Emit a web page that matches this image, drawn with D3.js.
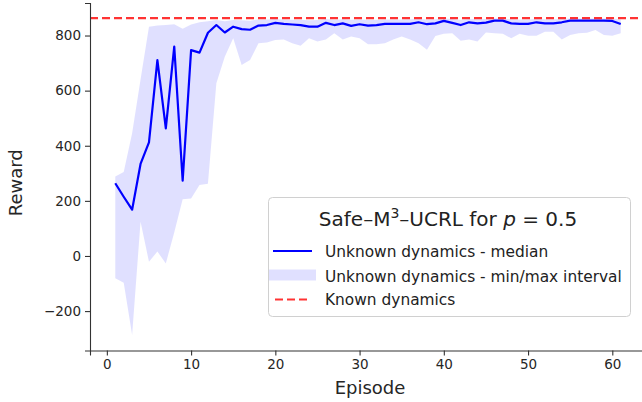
<!DOCTYPE html>
<html>
<head>
<meta charset="utf-8">
<script src="https://cdn.jsdelivr.net/npm/d3@7"></script>
<style>
  html, body { margin: 0; padding: 0; background: #fff; }
  svg { display: block; font-family: "DejaVu Sans", sans-serif; }
</style>
</head>
<body>
<svg id="chart" width="642" height="402"></svg>
<script>
// Episodes run
const episodes = [1,2,3,4,5,6,7,8,9,10,11,12,13,14,15,16,17,18,19,20,
  21,22,23,24,25,26,27,28,29,30,31,32,33,34,35,36,37,38,39,40,
  41,42,43,44,45,46,47,48,49,50,51,52,53,54,55,56,57,58,59,60,61];

// Reward with unknown dynamics: median over runs
const medianReward = [264,215,168,334,412,711,463,760,273,747,
  738,810,838,811,832,823,821,836,838,846,
  842,840,838,832,832,846,838,844,835,841,
  836,838,842,842,842,842,848,841,844,853,
  846,838,848,844,847,854,854,844,842,842,
  848,844,844,848,854,854,854,854,854,853,842];

// Reward with unknown dynamics: minimum over runs
const minReward = [-81,-97,-287,124,-21,16,-27,85,206,209,
  258,262,627,723,790,693,711,772,775,784,
  786,772,763,790,778,786,808,786,796,790,
  768,768,772,786,796,786,772,748,798,806,
  808,781,786,778,811,808,806,790,806,799,
  799,814,814,786,802,808,810,820,802,799,808];

// Reward with unknown dynamics: maximum over runs
const maxReward = [288,305,445,640,832,836,838,841,825,840,
  848,852,856,852,856,855,854,858,858,860,
  858,857,857,855,856,860,857,859,857,858,
  857,857,858,858,858,859,860,858,859,862,
  860,857,860,859,860,862,862,859,858,858,
  860,859,859,860,862,862,862,862,862,862,858];

// Reward reached with known dynamics
const knownReward = 863;

const xTicks = [0,10,20,30,40,50,60];
const yTicks = [-200,0,200,400,600,800];

const legendTitle = ["Safe–M", "3", "–UCRL for ", "p", " = 0.5"];
const legendLabels = ["Unknown dynamics - median",
  "Unknown dynamics - min/max interval",
  "Known dynamics"];

const svg = d3.select("#chart");

const x = d3.scaleLinear().domain([-2, 64]).range([90, 646]);
const y = d3.scaleLinear().domain([-343, 918]).range([350.5, 3]);

const rows = episodes.map((e, i) => ({e, med: medianReward[i], lo: minReward[i], hi: maxReward[i]}));

// min/max band
svg.append("path")
  .datum(rows)
  .attr("fill", "#0000ff")
  .attr("fill-opacity", 0.12)
  .attr("d", d3.area().x(d => x(d.e)).y0(d => y(d.lo)).y1(d => y(d.hi)));

// median line
svg.append("path")
  .datum(rows)
  .attr("fill", "none")
  .attr("stroke", "#0000ff")
  .attr("stroke-width", 2.2)
  .attr("stroke-linejoin", "round")
  .attr("d", d3.line().x(d => x(d.e)).y(d => y(d.med)));

// known-dynamics reference
svg.append("line")
  .attr("x1", x.range()[0]).attr("x2", 642)
  .attr("y1", y(knownReward)).attr("y2", y(knownReward))
  .attr("stroke", "#ff0000")
  .attr("stroke-opacity", 0.8)
  .attr("stroke-width", 2.2)
  .attr("stroke-dasharray", "8,4");

// axes
const xAxis = svg.append("g")
  .attr("transform", `translate(0,${y.range()[0]})`)
  .call(d3.axisBottom(x).tickValues(xTicks).tickSize(5).tickPadding(4).tickFormat(d3.format("d")));
const yAxis = svg.append("g")
  .attr("transform", `translate(${x.range()[0]},0)`)
  .call(d3.axisLeft(y).tickValues(yTicks).tickSize(5).tickPadding(4)
    .tickFormat(d => d < 0 ? "\u2212" + Math.abs(d) : String(d)));

[xAxis, yAxis].forEach(g => {
  g.select(".domain").attr("stroke", "#333").attr("stroke-width", 1.1);
  g.selectAll(".tick line").attr("stroke", "#333").attr("stroke-width", 1.1);
  g.selectAll(".tick text").attr("fill", "#262626").style("font-size", "13.5px")
    .style("font-family", "DejaVu Sans, sans-serif");
});

svg.append("text")
  .attr("x", (x.range()[0] + 642) / 2 + 4).attr("y", 394)
  .attr("text-anchor", "middle")
  .attr("fill", "#262626")
  .style("font-size", "18px")
  .text("Episode");

svg.append("text")
  .attr("transform", `translate(22,${(y.range()[0] + y.range()[1]) / 2 + 6}) rotate(-90)`)
  .attr("text-anchor", "middle")
  .attr("fill", "#262626")
  .style("font-size", "18px")
  .text("Reward");

// legend
const lg = svg.append("g");
lg.append("rect")
  .attr("x", 268.5).attr("y", 197.5).attr("width", 362).attr("height", 119)
  .attr("rx", 4)
  .attr("fill", "#fff").attr("fill-opacity", 0.8)
  .attr("stroke", "#d0d0d0").attr("stroke-width", 1);

const title = lg.append("text")
  .attr("x", 448).attr("y", 226)
  .attr("text-anchor", "middle")
  .attr("fill", "#222")
  .style("font-size", "20px");
title.append("tspan").text(legendTitle[0]);
title.append("tspan").attr("dy", -8).style("font-size", "14px").text(legendTitle[1]);
title.append("tspan").attr("dy", 8).text(legendTitle[2]);
title.append("tspan").style("font-style", "italic").text(legendTitle[3]);
title.append("tspan").text(legendTitle[4]);

lg.append("line")
  .attr("x1", 273).attr("x2", 312).attr("y1", 251).attr("y2", 251)
  .attr("stroke", "#0000ff").attr("stroke-width", 2.2);
lg.append("rect")
  .attr("x", 269).attr("y", 269.5).attr("width", 47).attr("height", 11)
  .attr("fill", "#0000ff").attr("fill-opacity", 0.12);
lg.append("line")
  .attr("x1", 275).attr("x2", 311).attr("y1", 299.5).attr("y2", 299.5)
  .attr("stroke", "#ff0000").attr("stroke-opacity", 0.8)
  .attr("stroke-width", 2.2).attr("stroke-dasharray", "8,4");

const baselines = [256.5, 281.5, 304.5];
legendLabels.forEach((t, i) => {
  lg.append("text")
    .attr("x", 325).attr("y", baselines[i])
    .attr("fill", "#222")
    .style("font-size", "15.4px")
    .text(t);
});
</script>
</body>
</html>
